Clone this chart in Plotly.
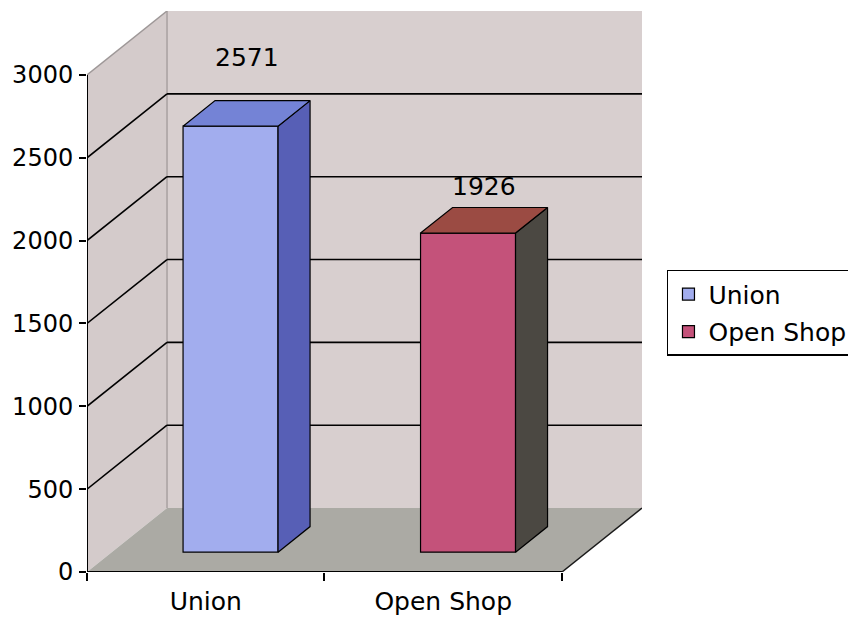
import plotly.graph_objects as go

# ── Data ──────────────────────────────────────────────────────────────────────
CATEGORIES = ["Union", "Open Shop"]
VALUES = [2571, 1926]
Y_TICKS = [0, 500, 1000, 1500, 2000, 2500, 3000]

# ── Style ─────────────────────────────────────────────────────────────────────
FRONT_COLORS = ["#A2ADEE", "#C4527A"]
SIDE_COLORS = ["#575FB6", "#4B4842"]
TOP_COLORS = ["#7483D6", "#9B4B43"]
WALL = "#D8CFCF"
SIDE_WALL = "#D4CBCB"
FLOOR = "#ABAAA4"
FONT = "DejaVu Sans"
FS = 25

Y_MAX = 3000
DX, DY = 0.337, 386          # depth offset of back wall in data units
D0, D1 = 0.31, 0.71          # bar front / back depth fraction
BAR_W = 0.4
LABEL_SHIFT = [43, 21]       # px above back-top edge of each bar

x_lo, x_hi = -0.5, len(CATEGORIES) - 0.5

fig = go.Figure()

# walls and floor
shapes = [
    dict(type="path", layer="below", line=dict(width=0), fillcolor=WALL,
         path=f"M{x_lo+DX},{DY} L{x_hi+DX},{DY} L{x_hi+DX},{Y_MAX+DY} L{x_lo+DX},{Y_MAX+DY} Z"),
    dict(type="path", layer="below", line=dict(width=0), fillcolor=SIDE_WALL,
         path=f"M{x_lo},0 L{x_lo},{Y_MAX} L{x_lo+DX},{Y_MAX+DY} L{x_lo+DX},{DY} Z"),
    dict(type="path", layer="below", line=dict(width=0), fillcolor=FLOOR,
         path=f"M{x_lo},0 L{x_hi},0 L{x_hi+DX},{DY} L{x_lo+DX},{DY} Z"),
    # wall corner + side wall top edge
    dict(type="line", layer="below", line=dict(color="#A8A0A0", width=1.5),
         x0=x_lo+DX, y0=DY, x1=x_lo+DX, y1=Y_MAX+DY),
    dict(type="line", layer="below", line=dict(color="#9E9898", width=1.5),
         x0=x_lo, y0=Y_MAX, x1=x_lo+DX, y1=Y_MAX+DY),
    # floor right edge
    dict(type="line", layer="below", line=dict(color="#1A1A1A", width=1.5),
         x0=x_hi, y0=0, x1=x_hi+DX, y1=DY),
    # front axis lines
    dict(type="line", line=dict(color="black", width=2),
         x0=x_lo, y0=0, x1=x_lo, y1=Y_MAX),
    dict(type="line", line=dict(color="black", width=2),
         x0=x_lo, y0=0, x1=x_hi, y1=0),
]
for v in Y_TICKS[1:-1]:
    shapes.append(dict(type="line", layer="below", line=dict(color="black", width=1.6),
                       x0=x_lo, y0=v, x1=x_lo+DX, y1=v+DY))
    shapes.append(dict(type="line", layer="below", line=dict(color="black", width=1.6),
                       x0=x_lo+DX, y0=v+DY, x1=x_hi+DX, y1=v+DY))

# front faces of the columns
base = D0 * DY
for i, (cat, val) in enumerate(zip(CATEGORIES, VALUES)):
    fig.add_trace(go.Bar(
        x=[i + D0 * DX], y=[val], base=[base], width=BAR_W, name=cat,
        legendgroup=cat,
        marker=dict(color=FRONT_COLORS[i], line=dict(color="black", width=1.2)),
        hovertemplate=f"{cat}: {val}<extra></extra>",
    ))

# side and top faces
ddx, ddy = (D1 - D0) * DX, (D1 - D0) * DY
annotations = []
for i, val in enumerate(VALUES):
    xl = i + D0 * DX - BAR_W / 2
    xr = xl + BAR_W
    top = base + val
    fig.add_trace(go.Scatter(
        x=[xr, xr, xr + ddx, xr + ddx, xr], y=[base, top, top + ddy, base + ddy, base],
        fill="toself", fillcolor=SIDE_COLORS[i], mode="lines",
        line=dict(color="black", width=1.2), showlegend=False, hoverinfo="skip",
    ))
    fig.add_trace(go.Scatter(
        x=[xl, xr, xr + ddx, xl + ddx, xl], y=[top, top, top + ddy, top + ddy, top],
        fill="toself", fillcolor=TOP_COLORS[i], mode="lines",
        line=dict(color="black", width=1.2), showlegend=False, hoverinfo="skip",
    ))
    annotations.append(dict(
        x=i + (D0 + D1) / 2 * DX, y=top + ddy, text=str(val), showarrow=False,
        yshift=LABEL_SHIFT[i], font=dict(size=FS, color="black", family=FONT),
    ))

# page body has an 8px margin, so the figure is 8px smaller than the window
fig.update_layout(
    width=848, height=609,
    paper_bgcolor="white", plot_bgcolor="white",
    font=dict(family=FONT, size=FS, color="black"),
    margin=dict(l=79, r=214, t=3, b=45, autoexpand=False),
    shapes=shapes, annotations=annotations,
    barmode="overlay",
    xaxis=dict(
        range=[x_lo, x_hi + DX], tickvals=list(range(len(CATEGORIES))),
        ticktext=CATEGORIES, ticks="", showgrid=False, zeroline=False,
        showline=False, ticklabelstandoff=12,
        minor=dict(ticks="outside", tick0=-0.5, dtick=1, ticklen=8,
                   tickcolor="black", tickwidth=1.5, showgrid=False),
    ),
    yaxis=dict(
        range=[0, Y_MAX + DY], tickvals=Y_TICKS, ticks="outside", ticklen=7,
        tickcolor="black", tickwidth=1.5, showgrid=False, zeroline=False,
        showline=False, ticklabelstandoff=1, tickfont=dict(size=24),
    ),
    legend=dict(
        x=1.045, y=0.462, xanchor="left", yanchor="middle",
        bgcolor="white", bordercolor="black", borderwidth=1.5,
        font=dict(size=FS, family=FONT), itemwidth=30, tracegroupgap=2,
    ),
    showlegend=True,
)

fig.write_html("out.html")
